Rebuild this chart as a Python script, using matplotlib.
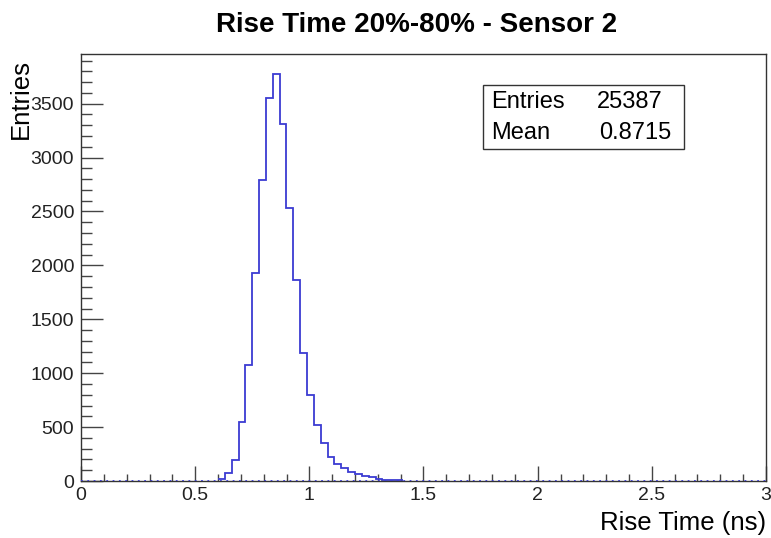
import numpy as np
import matplotlib
matplotlib.use("Agg")
import matplotlib.pyplot as plt
from matplotlib.ticker import MultipleLocator
from matplotlib.patches import Rectangle

plt.rcParams['font.family'] = ['Liberation Sans', 'DejaVu Sans']

# histogram: 100 bins of 0.03 ns between 0 and 3 ns, filled bins start at 0.60
n_bins = 100
x_min, x_max = 0.0, 3.0
first_bin = 20
counts_filled = [20, 71, 195, 551, 1078, 1929, 2796, 3549, 3772, 3307,
                 2533, 1867, 1186, 799, 520, 350, 226, 155, 122, 88,
                 69, 47, 35, 21, 12, 6, 5]
stats_names = ["Entries", "Mean"]
stats_values = ["25387", "0.8715"]

edges = np.linspace(x_min, x_max, n_bins + 1)
filled_edges = edges[first_bin:first_bin + len(counts_filled) + 1]

fig = plt.figure(figsize=(7.71, 5.38), dpi=100)
ax = fig.add_axes([81/771, 57/538, 685/771, 427/538])

blue = '#3b3bd2'
ax.stairs(counts_filled, filled_edges, color=blue, linewidth=1.3, baseline=None, zorder=2)
# empty bins drawn on the zero line (shows as blue dots over the axis)
ax.axhline(0, color=blue, linestyle=(0, (1, 2.5)), linewidth=1.3, zorder=4)

ax.set_xlim(x_min, x_max)
ax.set_ylim(0, max(counts_filled) * 1.05)

ax.xaxis.set_major_locator(MultipleLocator(0.5))
ax.xaxis.set_minor_locator(MultipleLocator(0.1))
ax.yaxis.set_major_locator(MultipleLocator(500))
ax.yaxis.set_minor_locator(MultipleLocator(100))
ax.xaxis.set_major_formatter(plt.FuncFormatter(lambda v, p: f"{v:g}"))

ax.tick_params(axis='x', which='major', direction='in', length=11, width=1,
               labelsize=14, pad=4, colors='#444444', labelcolor='#222222')
ax.tick_params(axis='x', which='minor', direction='in', length=5, width=1, colors='#444444')
ax.tick_params(axis='y', which='major', direction='in', length=16, width=1,
               labelsize=14, pad=5, colors='#444444', labelcolor='#222222')
ax.tick_params(axis='y', which='minor', direction='in', length=8, width=1, colors='#444444')
for s in ax.spines.values():
    s.set_color('#333333')
    s.set_linewidth(1.0)
    s.set_zorder(3)

# title and axis labels (ROOT style placement)
fig.text(417/771, 1 - 25/538, "Rise Time 20%-80% - Sensor 2",
         ha='center', va='center', fontsize=20, fontweight='bold')
fig.text(766/771, 1 - 523/538, "Rise Time (ns)", ha='right', va='center', fontsize=18.5)
fig.text(21/771, 1 - 59/538, "Entries", ha='center', va='top', rotation=90, fontsize=18.5)

# stats box
fig.patches.append(Rectangle((483/771, 1 - 149/538), 201/771, 64/538,
                             transform=fig.transFigure, facecolor='white',
                             edgecolor='#333333', linewidth=1.0))
row_y = [1 - 102/538, 1 - 133/538]
value_x = [663/771, 671/771]
for name, val, yy, vx in zip(stats_names, stats_values, row_y, value_x):
    fig.text(491/771, yy, name, ha='left', va='center', fontsize=17)
    fig.text(vx, yy, val, ha='right', va='center', fontsize=17)

fig.savefig("out.png", dpi=100)
